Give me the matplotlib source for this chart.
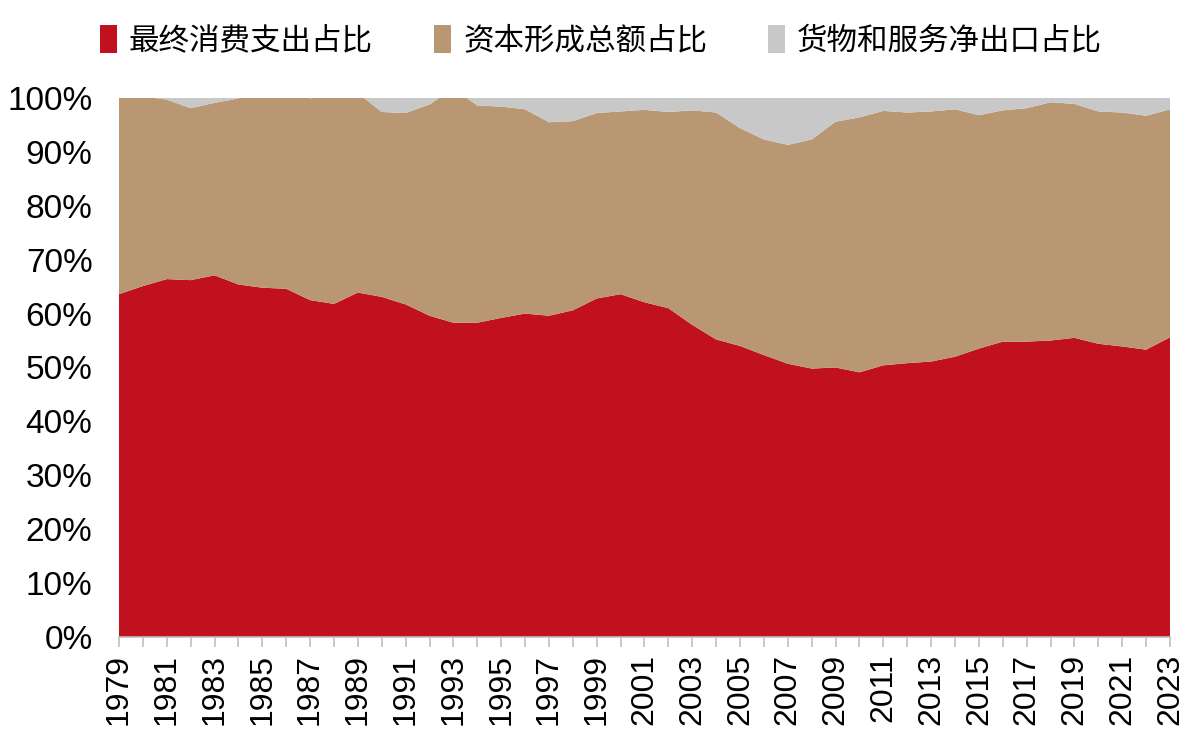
import numpy as np
import matplotlib
matplotlib.use("Agg")
import matplotlib.pyplot as plt
from matplotlib.ticker import FuncFormatter, MultipleLocator

plt.rcParams['font.family'] = ['Liberation Sans', 'Noto Sans CJK SC', 'DejaVu Sans']

years = list(range(1979, 2024))

# final consumption share of GDP (%)
consumption = [63.6, 65.1, 66.4, 66.2, 67.1, 65.4, 64.8, 64.6, 62.5, 61.8,
               63.9, 63.1, 61.7, 59.6, 58.3, 58.3, 59.2, 60.0, 59.6, 60.6,
               62.8, 63.6, 62.1, 61.0, 57.9, 55.2, 54.0, 52.3, 50.7, 49.8,
               50.0, 49.1, 50.4, 50.8, 51.1, 52.0, 53.5, 54.8, 54.8, 55.0,
               55.5, 54.4, 53.9, 53.3, 55.6]

# gross capital formation share (%)
capital = [36.9, 35.2, 33.3, 31.9, 32.0, 34.5, 39.2, 37.6, 37.4, 39.2,
           37.0, 34.3, 35.5, 39.2, 43.5, 40.3, 39.2, 37.9, 35.9, 35.1,
           34.4, 33.9, 35.7, 36.4, 39.8, 42.1, 40.4, 40.0, 40.6, 42.5,
           45.6, 47.3, 47.2, 46.5, 46.4, 45.9, 43.3, 42.9, 43.3, 44.2,
           43.4, 43.1, 43.4, 43.4, 42.3]

# net exports of goods and services share (%)
net_exports = [-0.5, -0.3, 0.3, 1.9, 0.9, 0.1, -4.0, -2.2, 0.1, -1.0,
               -0.9, 2.6, 2.8, 1.2, -1.8, 1.4, 1.6, 2.1, 4.5, 4.3,
               2.8, 2.5, 2.2, 2.6, 2.3, 2.7, 5.6, 7.7, 8.7, 7.7,
               4.4, 3.6, 2.4, 2.7, 2.5, 2.1, 3.2, 2.3, 1.9, 0.8,
               1.1, 2.5, 2.7, 3.3, 2.1]

labels = ['最终消费支出占比', '资本形成总额占比', '货物和服务净出口占比']
colors = ['#C1101E', '#B99773', '#C8C8C8']

fig = plt.figure(figsize=(11.83, 7.30), dpi=100)
ax = fig.add_axes([0.1006, 0.1274, 0.8884, 0.7384])

ax.stackplot(years, consumption, capital, net_exports, colors=colors,
             labels=labels, linewidth=0)

ax.set_xlim(1979, 2023)
ax.set_ylim(0, 100)
ax.yaxis.set_major_locator(MultipleLocator(10))
ax.yaxis.set_major_formatter(FuncFormatter(lambda v, p: '%d%%' % v))
ax.set_xticks(years)
ax.set_xticklabels([str(y) if (y - 1979) % 2 == 0 else '' for y in years],
                   rotation=90)

for s in ['top', 'right', 'left']:
    ax.spines[s].set_visible(False)
ax.spines['bottom'].set_color('#BFBFBF')
ax.spines['bottom'].set_linewidth(1.2)
ax.tick_params(axis='x', colors='#BFBFBF', length=7, width=1.2,
               labelcolor='black', labelsize=23, pad=5)
ax.tick_params(axis='y', length=0, labelsize=24, pad=19)

fig.legend(loc='upper center', bbox_to_anchor=(0.508, 1.003), ncol=3,
           frameon=False, prop={'family': ['Noto Sans CJK SC'], 'size': 22},
           handlelength=0.55, handleheight=1.0, handletextpad=0.4,
           columnspacing=2.0)

fig.savefig('out.png', dpi=100)
